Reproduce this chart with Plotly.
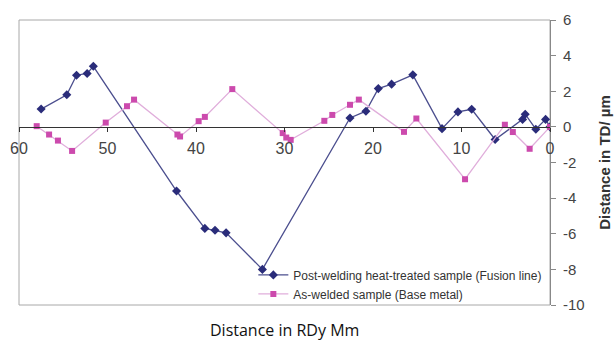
import plotly.graph_objects as go

# Post-welding heat-treated sample (fusion line)
pwht_rd = [57.5, 54.6, 53.5, 52.3, 51.6, 42.2, 39.0, 37.85, 36.6, 32.5,
           22.6, 20.8, 19.4, 17.9, 15.5, 12.2, 10.4, 8.85, 6.2, 3.1,
           2.8, 1.6, 0.5, 0.0]
pwht_td = [1.0, 1.8, 2.9, 3.0, 3.4, -3.6, -5.7, -5.8, -5.95, -8.0,
           0.5, 0.88, 2.15, 2.4, 2.92, -0.1, 0.84, 0.99, -0.71, 0.42,
           0.71, -0.13, 0.42, 0.0]

# As-welded sample (base metal)
aw_rd = [58.0, 56.6, 55.6, 54.0, 50.2, 47.8, 47.0, 42.1, 41.8, 39.7,
         39.0, 35.9, 30.2, 29.8, 29.3, 25.5, 24.6, 22.6, 21.6, 16.5,
         15.1, 9.6, 5.1, 4.2, 2.3, 0.0]
aw_td = [0.04, -0.43, -0.77, -1.35, 0.24, 1.16, 1.53, -0.43, -0.54, 0.32,
         0.56, 2.12, -0.35, -0.6, -0.73, 0.34, 0.67, 1.24, 1.53, -0.28,
         0.47, -2.94, 0.12, -0.29, -1.23, 0.0]

series_names = ["Post-welding heat-treated sample (Fusion line)",
                "As-welded sample (Base metal)"]

x_ticks = [60, 50, 40, 30, 20, 10, 0]
y_ticks = [6, 4, 2, 0, -2, -4, -6, -8, -10]
y_min, y_max = -10, 6

fig = go.Figure()
fig.add_trace(go.Scatter(
    x=pwht_rd, y=pwht_td, mode="lines+markers", name=series_names[0],
    line=dict(color="#4b4e8e", width=1.3),
    marker=dict(symbol="diamond", size=7, color="#2a2c7a"),
))
fig.add_trace(go.Scatter(
    x=aw_rd, y=aw_td, mode="lines+markers", name=series_names[1],
    line=dict(color="#e0aedb", width=1.3),
    marker=dict(symbol="square", size=6, color="#cc4aad"),
))

tick_font = dict(family="Liberation Sans, Arial, sans-serif", size=15, color="#444")

fig.update_layout(
    width=615, height=340,
    margin=dict(l=19, r=65, t=20, b=35),
    paper_bgcolor="white", plot_bgcolor="white",
    showlegend=True,
    legend=dict(
        x=0.995, xanchor="right", y=-0.012, yanchor="bottom",
        bgcolor="rgba(0,0,0,0)",
        font=dict(family="Liberation Sans, Arial, sans-serif", size=12, color="#333"),
        tracegroupgap=0, itemwidth=30,
    ),
    xaxis=dict(
        range=[60, 0], tickvals=x_ticks, ticktext=[str(v) for v in x_ticks],
        anchor="free", position=(0 - y_min) / (y_max - y_min),
        showline=True, linecolor="#333", linewidth=1.2,
        ticks="outside", ticklen=4, tickcolor="#333",
        ticklabelstandoff=3, automargin=False,
        showgrid=False, zeroline=False, tickfont=dict(tick_font, size=16),
    ),
    yaxis=dict(
        range=[y_min, y_max], tickvals=y_ticks, ticktext=[str(v) for v in y_ticks],
        side="right", anchor="x", automargin=False,
        showline=True, linecolor="#888", linewidth=1,
        ticks="outside", ticklen=5, tickcolor="#888",
        ticklabelstandoff=4,
        showgrid=False, zeroline=False, tickfont=tick_font,
        title=dict(text="Distance in TD/ µm", standoff=15,
                   font=dict(family="Liberation Sans, Arial, sans-serif",
                             size=15, color="#333", weight="bold")),
    ),
    shapes=[dict(type="rect", xref="paper", yref="paper", x0=0, x1=1, y0=0, y1=1,
                 line=dict(color="#a8a8a8", width=1), layer="below")],
    annotations=[dict(text="Distance in RDy Mm", xref="paper", yref="paper",
                      x=0.5, y=0, yshift=-25, yanchor="middle", showarrow=False,
                      font=dict(family="Open Sans, sans-serif", size=16, color="#111"))],
)

fig.write_html("out.html")
